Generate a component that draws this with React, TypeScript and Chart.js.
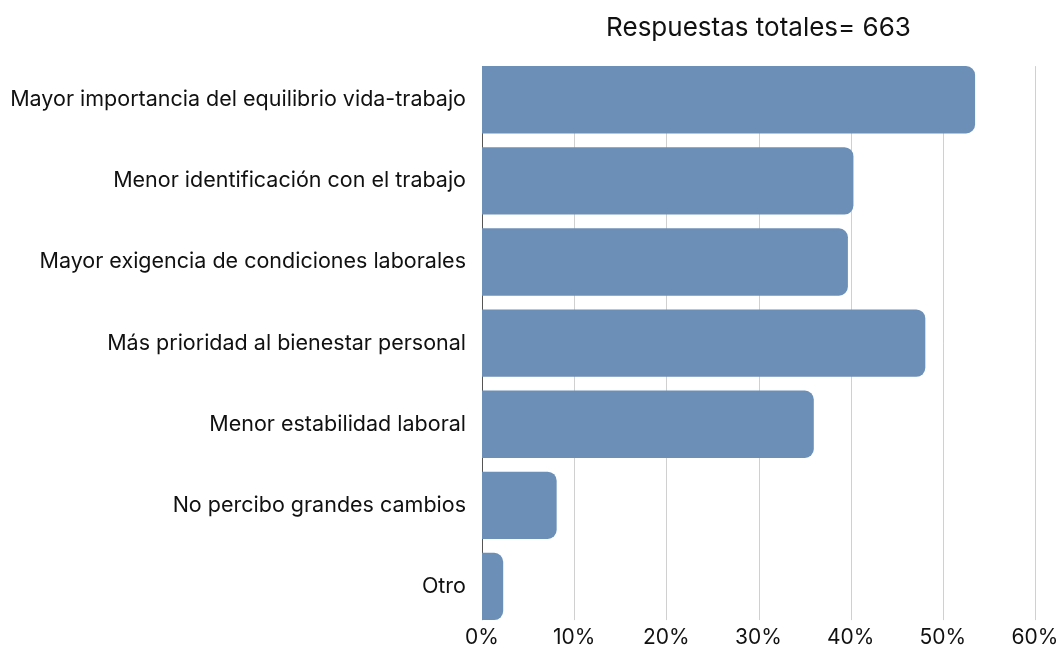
import React, { useEffect, useRef } from "react";
import { Chart, registerables } from "chart.js";

Chart.register(...registerables);

const categories = [
  "Mayor importancia del equilibrio vida-trabajo",
  "Menor identificación con el trabajo",
  "Mayor exigencia de condiciones laborales",
  "Más prioridad al bienestar personal",
  "Menor estabilidad laboral",
  "No percibo grandes cambios",
  "Otro",
];
const values = [53.5, 40.3, 39.7, 48.1, 36.0, 8.1, 2.3];
const titleText = "Respuestas totales= 663";
const xMin = 0;
const xMax = 60;
const xStep = 10;

const gridPlugin = {
  id: "barSpanGrid",
  beforeDatasetsDraw(chart: any) {
    const meta = chart.getDatasetMeta(0);
    const els = meta.data;
    if (!els.length) return;
    const first = els[0].getProps(["y", "height"], true);
    const last = els[els.length - 1].getProps(["y", "height"], true);
    const top = first.y - first.height / 2;
    const bottom = last.y + last.height / 2;
    const xs = chart.scales.x;
    const c = chart.ctx;
    c.save();
    c.lineWidth = 1;
    xs.ticks.forEach((t: any) => {
      const px = Math.round(xs.getPixelForValue(t.value)) + 0.5;
      c.strokeStyle = t.value === 0 ? "#555555" : "#d0d0d0";
      c.beginPath();
      c.moveTo(px, top);
      c.lineTo(px, bottom);
      c.stroke();
    });
    c.restore();
  },
};

export default function App() {
  const ref = useRef<HTMLCanvasElement>(null);
  useEffect(() => {
    document.body.style.margin = "0";
    const ctx = ref.current!;
    const chart = new Chart(ctx, {
      type: "bar",
      data: {
        labels: categories,
        datasets: [
          {
            data: values,
            backgroundColor: "#6c8fb7",
            borderRadius: { topLeft: 0, bottomLeft: 0, topRight: 9, bottomRight: 9 },
            borderSkipped: false,
            barPercentage: 1,
            categoryPercentage: 0.83,
          },
        ],
      },
      options: {
        indexAxis: "y",
        animation: false,
        responsive: false,
        layout: { padding: { left: 4, right: 0, top: 0, bottom: 0 } },
        plugins: {
          legend: { display: false },
          tooltip: { enabled: false },
          title: {
            display: true,
            text: titleText,
            fullSize: false,
            color: "#111",
            font: { family: "Inter", size: 26, weight: "normal", lineHeight: 1.2 },
            padding: { top: 13, bottom: 15 },
          },
        },
        scales: {
          x: {
            min: xMin,
            max: xMax,
            afterFit: (scale: any) => {
              scale.height = 20;
              scale.paddingRight = 26;
            },
            ticks: {
              stepSize: xStep,
              color: "#111",
              font: { family: "Inter", size: 21, lineHeight: 1.0 },
              callback: (v: any) => v + "%",
              padding: 0,
            },
            grid: { display: false, drawTicks: false },
            border: { display: false },
          },
          y: {
            afterFit: (scale: any) => {
              scale.width = 478;
              scale.paddingTop = 0;
              scale.paddingBottom = 0;
            },
            ticks: {
              color: "#111",
              font: { family: "Inter", size: 21.5, lineHeight: 0.5 },
              padding: 16,
            },
            grid: { display: false, drawTicks: false },
            border: { display: false },
          },
        },
      },
      plugins: [gridPlugin],
    });
    return () => chart.destroy();
  }, []);
  return <canvas ref={ref} width={1061} height={647} style={{ display: "block" }} />;
}
